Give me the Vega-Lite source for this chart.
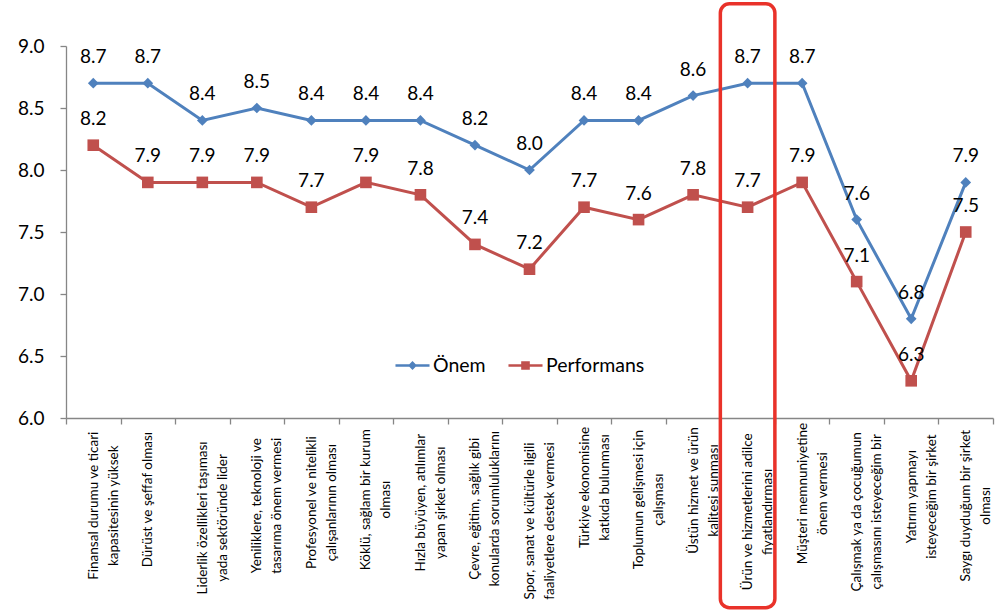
{
  "$schema": "https://vega.github.io/schema/vega-lite/v6.json",
  "width": 927,
  "height": 372,
  "autosize": {"type": "none"},
  "padding": {"left": 66, "top": 46, "right": 9, "bottom": 194},
  "background": "white",
  "config": {"view": {"stroke": null}, "font": "Lato"},
  "data": {"values": [
    {"kriter": "Finansal durumu ve ticari\nkapasitesinin yüksek", "Önem": 8.7, "Performans": 8.2},
    {"kriter": "Dürüst ve şeffaf olması", "Önem": 8.7, "Performans": 7.9},
    {"kriter": "Liderlik özellikleri taşıması\nyada sektöründe lider", "Önem": 8.4, "Performans": 7.9},
    {"kriter": "Yeniliklere, teknoloji ve\ntasarıma önem vermesi", "Önem": 8.5, "Performans": 7.9},
    {"kriter": "Profesyonel ve nitelikli\nçalışanlarının olması", "Önem": 8.4, "Performans": 7.7},
    {"kriter": "Köklü, sağlam bir kurum\nolması", "Önem": 8.4, "Performans": 7.9},
    {"kriter": "Hızla büyüyen, atılımlar\nyapan şirket olması", "Önem": 8.4, "Performans": 7.8},
    {"kriter": "Çevre, eğitim, sağlık gibi\nkonularda sorumluluklarını", "Önem": 8.2, "Performans": 7.4},
    {"kriter": "Spor, sanat ve kültürle ilgili\nfaaliyetlere destek vermesi", "Önem": 8.0, "Performans": 7.2},
    {"kriter": "Türkiye ekonomisine\nkatkıda bulunması", "Önem": 8.4, "Performans": 7.7},
    {"kriter": "Toplumun gelişmesi için\nçalışması", "Önem": 8.4, "Performans": 7.6},
    {"kriter": "Üstün hizmet ve ürün\nkalitesi sunması", "Önem": 8.6, "Performans": 7.8},
    {"kriter": "Ürün ve hizmetlerini adilce\nfiyatlandırması", "Önem": 8.7, "Performans": 7.7},
    {"kriter": "Müşteri memnuniyetine\nönem vermesi", "Önem": 8.7, "Performans": 7.9},
    {"kriter": "Çalışmak ya da çocuğumun\nçalışmasını isteyeceğim bir", "Önem": 7.6, "Performans": 7.1},
    {"kriter": "Yatırım yapmayı\nisteyeceğim bir şirket", "Önem": 6.8, "Performans": 6.3},
    {"kriter": "Saygı duyduğum bir şirket\nolması", "Önem": 7.9, "Performans": 7.5}
  ]},
  "transform": [{"fold": ["Önem", "Performans"], "as": ["seri", "puan"]}],
  "encoding": {
    "x": {
      "field": "kriter", "type": "nominal", "sort": null,
      "scale": {"type": "band", "paddingInner": 0, "paddingOuter": 0},
      "axis": {
        "title": null,
        "labelAngle": -90,
        "labelAlign": "center",
        "labelBaseline": "middle",
        "labelExpr": "split(datum.label, '\\n')",
        "labelFont": "Lato",
        "labelFontSize": 13.5,
        "labelColor": "#000000",
        "labelLineHeight": 20,
        "labelLimit": 0,
        "labelOverlap": false,
        "labelPadding": 5,
        "tickBand": "extent",
        "tickSize": 6,
        "tickColor": "#868686",
        "tickWidth": 1.3,
        "domainColor": "#868686",
        "domainWidth": 1.3,
        "grid": false,
        "encoding": {
          "labels": {
            "dx": {"value": {"expr": "-max(length(split(datum.value, '\\n')[0]), length(peek(split(datum.value, '\\n')))) * 3.05"}}
          }
        }
      }
    },
    "y": {
      "field": "puan", "type": "quantitative",
      "scale": {"domain": [6, 9], "zero": false, "nice": false},
      "axis": {
        "title": null,
        "values": [6, 6.5, 7, 7.5, 8, 8.5, 9],
        "format": ".1f",
        "grid": false,
        "labelFont": "Lato",
        "labelFontSize": 19,
        "labelColor": "#000000",
        "labelPadding": 16,
        "tickSize": 6,
        "tickColor": "#868686",
        "tickWidth": 1.3,
        "domainColor": "#868686",
        "domainWidth": 1.3
      }
    }
  },
  "layer": [
    {
      "mark": {"type": "line", "strokeWidth": 3},
      "encoding": {
        "color": {
          "field": "seri", "type": "nominal",
          "scale": {"domain": ["Önem", "Performans"], "range": ["#4F81BD", "#C0504D"]},
          "legend": {
            "title": null,
            "orient": "none",
            "direction": "horizontal",
            "legendX": 335,
            "legendY": 308,
            "labelFont": "Lato",
            "labelFontSize": 19.5,
            "labelColor": "#000000",
            "labelOffset": 9,
            "columnPadding": 22,
            "symbolSize": 515,
            "symbolType": "M-1.5,-0.12H-0.28L0,-0.4L0.28,-0.12H1.5V0.12H0.28L0,0.4L-0.28,0.12H-1.5Z",
            "symbolStrokeWidth": 0,
            "encoding": {
              "symbols": {
                "shape": {"value": {"expr": "datum.value === 'Önem' ? 'M-1.5,-0.12H-0.28L0,-0.4L0.28,-0.12H1.5V0.12H0.28L0,0.4L-0.28,0.12H-1.5Z' : 'M-1.5,-0.12H-0.38V-0.38H0.38V-0.12H1.5V0.12H0.38V0.38H-0.38V0.12H-1.5Z'"}},
                "fill": {"value": {"expr": "datum.value === 'Önem' ? '#4F81BD' : '#C0504D'"}},
                "stroke": {"value": "transparent"},
                "strokeWidth": {"value": 0},
                "size": {"value": 515},
                "opacity": {"value": 1}
              }
            }
          }
        }
      }
    },
    {
      "transform": [{"filter": "datum.seri === 'Önem'"}],
      "mark": {"type": "point", "filled": true, "opacity": 1, "shape": "diamond", "size": 115},
      "encoding": {
        "color": {"field": "seri", "type": "nominal", "legend": null}
      }
    },
    {
      "transform": [{"filter": "datum.seri === 'Performans'"}],
      "mark": {"type": "point", "filled": true, "opacity": 1, "shape": "square", "size": 135},
      "encoding": {
        "color": {"field": "seri", "type": "nominal", "legend": null}
      }
    },
    {
      "mark": {"type": "text", "dy": -26, "baseline": "middle", "align": "center", "font": "Lato", "fontSize": 19, "color": "#000000"},
      "encoding": {
        "text": {"field": "puan", "type": "quantitative", "format": ".1f"}
      }
    },
    {
      "transform": [{"filter": "indexof(datum.kriter, 'adilce') >= 0 && datum.seri === 'Önem'"}],
      "mark": {"type": "rect", "fill": null, "fillOpacity": 0, "stroke": "#E9322A", "strokeWidth": 3.5, "cornerRadius": 9, "clip": false},
      "encoding": {
        "y": {"datum": 9.34},
        "y2": {"datum": 4.47}
      }
    }
  ]
}
